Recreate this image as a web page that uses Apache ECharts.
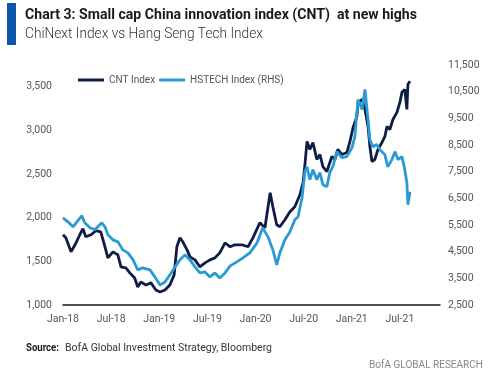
<!DOCTYPE html>
<html>
<head>
<meta charset="utf-8">
<script src="https://cdn.jsdelivr.net/npm/echarts@6/dist/echarts.min.js"></script>
<style>
html,body{margin:0;padding:0;background:#fff;}
#chart{width:500px;height:379px;}
</style>
</head>
<body>
<div id="chart"></div>
<script>
const xTickLabels = ['Jan-18','Jul-18','Jan-19','Jul-19','Jan-20','Jul-20','Jan-21','Jul-21'];
const leftTicks = [1000, 3750, 500];
const rightTicks = [2500, 11500, 1000];

const cntDates = ['2018-01-01','2018-01-12','2018-02-01','2018-02-15','2018-03-04','2018-03-16','2018-03-27','2018-04-16','2018-05-04','2018-05-23','2018-06-08','2018-06-19','2018-07-08','2018-07-27','2018-08-08','2018-08-27','2018-09-11','2018-09-29','2018-10-11','2018-10-23','2018-11-11','2018-11-30','2018-12-19','2019-01-04','2019-01-23','2019-02-10','2019-02-25','2019-03-07','2019-03-19','2019-03-30','2019-04-15','2019-04-26','2019-05-15','2019-06-03','2019-06-22','2019-07-11','2019-07-30','2019-08-18','2019-09-07','2019-09-26','2019-10-14','2019-11-10','2019-12-03','2019-12-22','2020-01-18','2020-02-06','2020-02-25','2020-03-06','2020-03-21','2020-04-02','2020-04-21','2020-05-10','2020-05-29','2020-06-17','2020-06-29','2020-07-06','2020-07-14','2020-07-25','2020-08-06','2020-08-21','2020-09-02','2020-09-13','2020-09-28','2020-10-17','2020-10-29','2020-11-09','2020-11-24','2020-12-13','2020-12-25','2021-01-06','2021-01-21','2021-01-25','2021-02-09','2021-02-19','2021-03-02','2021-03-09','2021-03-17','2021-03-28','2021-04-09','2021-04-24','2021-05-05','2021-05-13','2021-05-24','2021-06-05','2021-06-20','2021-07-01','2021-07-09','2021-07-20','2021-07-28','2021-08-01','2021-08-09'];
const cntValues = [1805,1770,1609,1690,1805,1874,1782,1805,1851,1839,1667,1540,1609,1575,1437,1425,1368,1310,1207,1264,1230,1253,1172,1149,1172,1230,1345,1667,1770,1724,1632,1552,1517,1437,1483,1517,1540,1598,1713,1667,1690,1690,1667,1770,1943,1885,2287,2126,1920,1897,1977,2069,2126,2264,2402,2609,2874,2782,2862,2667,2724,2586,2529,2701,2667,2782,2724,2747,2874,3034,3161,3322,3356,3241,3046,2816,2644,2667,2782,2862,2931,3046,3011,3126,3207,3322,3437,3471,3241,3529,3563];

const hsDates = ['2018-01-01','2018-01-20','2018-02-08','2018-02-27','2018-03-12','2018-03-23','2018-04-12','2018-04-30','2018-05-27','2018-06-08','2018-06-19','2018-07-08','2018-07-27','2018-08-15','2018-09-04','2018-09-23','2018-10-11','2018-10-30','2018-11-26','2018-12-15','2019-01-04','2019-01-23','2019-02-10','2019-02-28','2019-03-19','2019-04-07','2019-04-26','2019-05-15','2019-06-03','2019-06-22','2019-07-11','2019-07-30','2019-08-18','2019-09-07','2019-09-26','2019-10-22','2019-11-14','2019-12-10','2020-01-07','2020-01-29','2020-02-17','2020-03-06','2020-03-21','2020-04-02','2020-04-21','2020-05-10','2020-05-29','2020-06-10','2020-06-25','2020-07-06','2020-07-14','2020-07-25','2020-08-06','2020-08-21','2020-09-02','2020-09-13','2020-09-28','2020-10-09','2020-10-21','2020-11-05','2020-11-24','2020-12-13','2021-01-02','2021-01-13','2021-01-25','2021-02-09','2021-02-19','2021-03-02','2021-03-09','2021-03-20','2021-04-05','2021-04-16','2021-05-05','2021-05-16','2021-06-01','2021-06-13','2021-06-24','2021-07-09','2021-07-20','2021-07-28','2021-08-01','2021-08-09'];
const hsValues = [5770,5620,5432,5695,5846,5582,5394,5319,5582,5432,5131,4943,4868,4567,4455,4192,3816,3891,3816,3553,3252,3365,3628,3928,4192,4380,4192,3928,3703,3740,3553,3703,3515,3703,3966,4116,4267,4455,4831,5394,5056,4567,4004,4455,4943,5244,5695,5808,6522,7500,7687,7199,7575,7199,7462,7011,6936,7462,7687,8251,8026,8063,8402,8815,10206,9830,10582,9454,8702,8439,8514,8326,8139,7687,7951,8251,7951,8063,7575,7086,6259,6748];

const titleText = 'Chart 3: Small cap China innovation index (CNT)  at new highs';
const subtitleText = 'ChiNext Index vs Hang Seng Tech Index';
const sourceLabel = 'Source:';
const sourceText = 'BofA Global Investment Strategy, Bloomberg';
const footerText = 'BofA GLOBAL RESEARCH';

function monthIndex(s) {
  const p = s.split('-').map(Number);
  const dim = new Date(p[0], p[1], 0).getDate();
  return (p[0] - 2018) * 12 + (p[1] - 1) + (p[2] - 1) / dim;
}
const cntData = cntDates.map((d, i) => [monthIndex(d), cntValues[i]]);
const hsData = hsDates.map((d, i) => [monthIndex(d), hsValues[i]]);

const ctx = document.createElement('canvas').getContext('2d');
function fitScale(text, font, target) {
  ctx.font = font;
  return target / ctx.measureText(text).width;
}

const FONT = "Roboto, sans-serif";
const fTitle = "bold 15px Roboto";
const fSub = "300 15.5px Roboto";
const fSrcB = "bold 11px Roboto";
const fSrc = "11px Roboto";
const fFoot = "11px Roboto";

const chart = echarts.init(document.getElementById('chart'), null, {renderer: 'canvas'});
chart.setOption({
  animation: false,
  backgroundColor: '#fff',
  textStyle: {fontFamily: FONT},
  graphic: [
    {type: 'rect', x: 7, y: 3, shape: {width: 9, height: 42}, style: {fill: '#0b57a8'}},
    {type: 'text', x: 25, y: 8, scaleX: fitScale(titleText, fTitle, 392),
     style: {text: titleText, font: fTitle, fill: '#1a1a1a', textVerticalAlign: 'top'}},
    {type: 'text', x: 25, y: 26, scaleX: fitScale(subtitleText, fSub, 238),
     style: {text: subtitleText, font: fSub, fill: '#333', textVerticalAlign: 'top'}},
    {type: 'text', x: 26, y: 343, scaleX: fitScale(sourceLabel, fSrcB, 33),
     style: {text: sourceLabel, font: fSrcB, fill: '#1a1a1a', textVerticalAlign: 'top'}},
    {type: 'text', x: 65, y: 343, scaleX: fitScale(sourceText, fSrc, 207),
     style: {text: sourceText, font: fSrc, fill: '#333', textVerticalAlign: 'top'}},
    {type: 'text', x: 369, y: 360, scaleX: fitScale(footerText, fFoot, 114),
     style: {text: footerText, font: fFoot, fill: '#888', textVerticalAlign: 'top'}}
  ],
  legend: {
    left: 73, top: 70, itemWidth: 26, itemHeight: 3, itemGap: 4, icon: 'rect',
    textStyle: {fontFamily: FONT, fontSize: 10, color: '#555'},
    data: ['CNT Index', 'HSTECH Index (RHS)']
  },
  grid: {left: 63, right: 60, top: 65, bottom: 74},
  xAxis: {
    type: 'value', min: 0, max: 47, interval: 6,
    axisLine: {show: true, lineStyle: {color: '#1a1a1a', width: 1.5}},
    axisTick: {show: false},
    splitLine: {show: false},
    axisLabel: {showMaxLabel: false, margin: 9, color: '#555', fontSize: 10.5, fontFamily: FONT,
      formatter: v => xTickLabels[Math.round(v / 6)] || ''}
  },
  yAxis: [
    {type: 'value', min: leftTicks[0], max: leftTicks[1], interval: leftTicks[2],
     axisLine: {show: false}, axisTick: {show: false}, splitLine: {show: false},
     axisLabel: {showMaxLabel: false, margin: 11, color: '#555', fontSize: 10.5, fontFamily: FONT,
       formatter: v => v.toLocaleString('en-US')}},
    {type: 'value', min: rightTicks[0], max: rightTicks[1], interval: rightTicks[2],
     axisLine: {show: false}, axisTick: {show: false}, splitLine: {show: false},
     axisLabel: {margin: 8, color: '#555', fontSize: 10.5, fontFamily: FONT,
       formatter: v => v.toLocaleString('en-US')}}
  ],
  series: [
    {name: 'CNT Index', type: 'line', yAxisIndex: 0, data: cntData, showSymbol: false, symbol: 'none',
     color: '#0d1d45', lineStyle: {width: 2.8, color: '#0d1d45'}},
    {name: 'HSTECH Index (RHS)', type: 'line', yAxisIndex: 1, data: hsData, showSymbol: false, symbol: 'none',
     color: '#2a9ad5', lineStyle: {width: 2.8, color: '#2a9ad5'}}
  ]
});
</script>
</body>
</html>
